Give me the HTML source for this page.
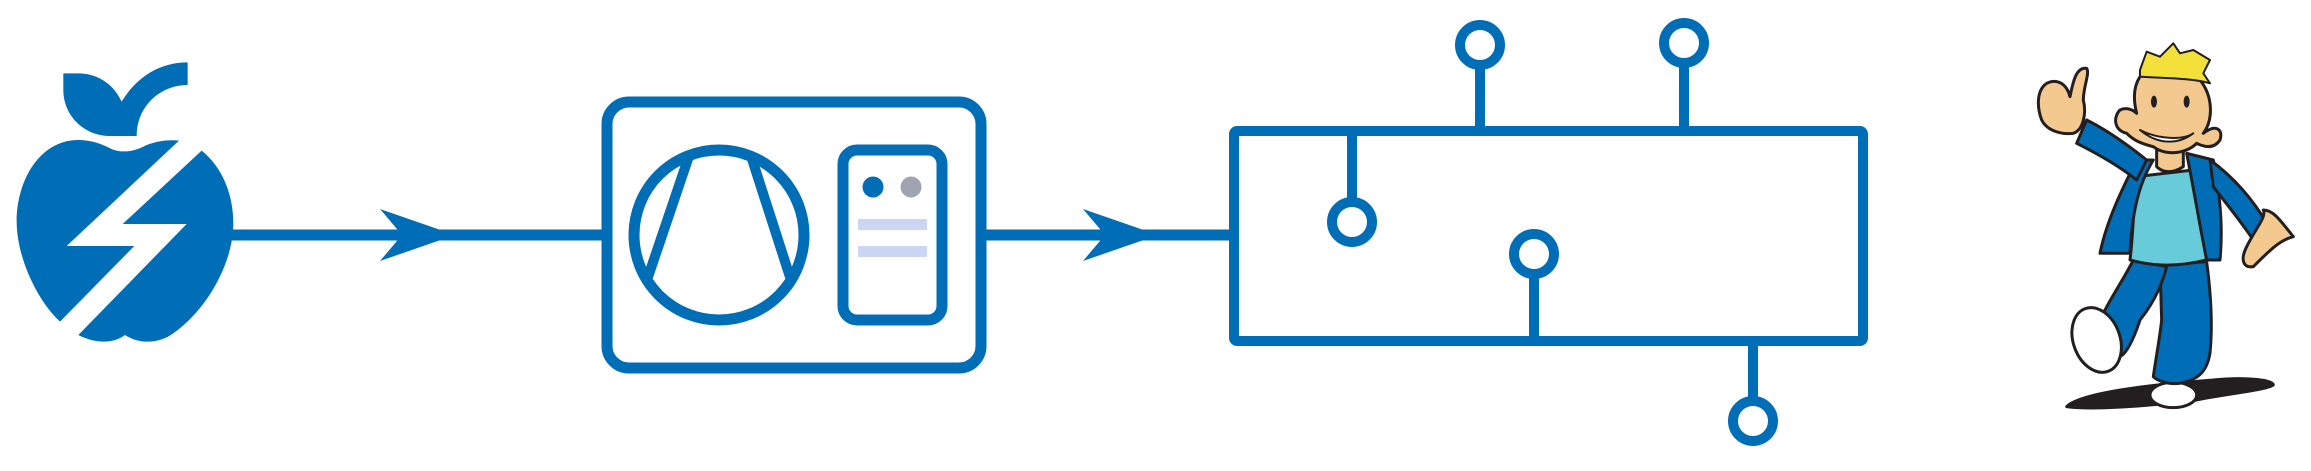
<!DOCTYPE html>
<html><head><meta charset="utf-8"><style>
html,body{margin:0;padding:0;background:#fff;}
svg{display:block;}
</style></head><body>
<svg width="2311" height="471" viewBox="0 0 2311 471" xmlns="http://www.w3.org/2000/svg">
<rect width="2311" height="471" fill="#fff"/>
<!-- apple -->
<g transform="translate(0,30) scale(0.3333)" fill="#006eb6">
<path d="M537,332 L200,648 L403,648 L180,875 C110,810 50,680 50,575 C50,450 120,330 235,330 C270,330 300,340 325,352 C360,372 400,365 430,350 C460,335 500,328 537,332 Z"/>
<path d="M605,362 L368,582 L560,582 L235,915 C280,938 335,945 375,915 C420,945 480,940 520,910 C620,840 700,700 700,580 C700,490 665,410 605,362 Z"/>
<path d="M190,130 L235,130 C290,130 340,160 365,215 C410,140 480,97 563,97 L563,165 C480,165 410,230 410,318 L330,318 C250,318 190,255 190,180 Z"/>
</g>
<g stroke="#006eb6" fill="none" stroke-width="11">
<!-- left arrow -->
<line x1="230" y1="235" x2="604" y2="235"/>
<!-- middle box -->
<rect x="607" y="102" width="374" height="266" rx="22"/>
<circle cx="719" cy="235" r="85" stroke-width="11"/>
<line x1="689" y1="156" x2="648" y2="277" stroke-width="10"/>
<line x1="751" y1="156" x2="790" y2="277" stroke-width="10"/>
<rect x="843" y="150" width="99" height="170" rx="14"/>
<!-- right arrow -->
<line x1="981" y1="235" x2="1234" y2="235"/>
<!-- right box -->
<rect x="1234" y="131" width="629" height="210" rx="3" stroke-width="10"/>
</g>
<!-- arrowheads -->
<path d="M380,209 L455,235 L380,261 L402,235 Z" fill="#006eb6"/>
<path d="M1083,209 L1158,235 L1083,261 L1105,235 Z" fill="#006eb6"/>
<!-- indicator -->
<circle cx="873" cy="187" r="10.5" fill="#006eb6"/>
<circle cx="911" cy="187" r="10.5" fill="#a0a4b0"/>
<rect x="858" y="219" width="69" height="11" fill="#cbd6f5"/>
<rect x="858" y="246" width="69" height="11" fill="#cbd6f5"/>
<!-- taps -->
<g stroke="#006eb6" stroke-width="10" fill="none">
<line x1="1480" y1="66" x2="1480" y2="131"/><circle cx="1480" cy="45" r="20"/>
<line x1="1684" y1="64" x2="1684" y2="131"/><circle cx="1684" cy="43" r="20"/>
<line x1="1352" y1="131" x2="1352" y2="201"/><circle cx="1352" cy="222" r="20"/>
<line x1="1534" y1="275" x2="1534" y2="341"/><circle cx="1534" cy="254" r="20"/>
<line x1="1753" y1="341" x2="1753" y2="400"/><circle cx="1753" cy="421" r="20"/>
</g>
<!-- cartoon person -->
<g transform="translate(1980,20) scale(0.3333)" stroke="#231f20" stroke-width="9" stroke-linejoin="round">
<path d="M260,1160 C300,1120 500,1095 700,1080 C800,1070 880,1080 880,1095 C860,1110 750,1120 650,1140 C500,1160 330,1170 260,1160 Z" fill="#231f20"/>
<ellipse cx="580" cy="1125" rx="70" ry="38" fill="#fff"/>
<path d="M540,735 L680,725 C690,800 700,900 690,1000 C680,1060 650,1080 600,1090 C560,1095 530,1080 520,1070 C530,1000 540,950 545,900 Z" fill="#006eb6"/>
<path d="M460,720 L560,740 C545,800 520,850 480,900 C460,960 440,1000 420,1010 C400,980 380,920 370,880 C400,820 430,780 460,720 Z" fill="#006eb6"/>
<ellipse cx="350" cy="960" rx="70" ry="100" transform="rotate(-20 350 960)" fill="#fff"/>
<path d="M470,470 L640,450 C660,550 670,650 680,720 C600,740 520,740 450,720 C460,640 460,560 470,470 Z" fill="#67cbd9"/>
<path d="M470,420 C430,500 380,600 360,700 L450,700 C455,600 470,500 520,420 Z" fill="#006eb6"/>
<path d="M620,400 L700,420 C720,520 730,620 720,720 L680,720 C660,620 640,500 620,400 Z" fill="#006eb6"/>
<path d="M690,420 C760,470 820,540 860,610 L820,660 C780,600 730,540 700,500 Z" fill="#006eb6"/>
<path d="M320,300 C380,330 450,380 500,420 L470,480 C420,440 350,400 290,370 Z" fill="#006eb6"/>
<path d="M200,190 C230,175 260,190 270,230 C280,180 290,140 320,145 C330,160 310,200 310,240 C320,280 310,330 280,340 C240,345 200,330 185,300 C170,260 170,210 200,190 Z" fill="#f3c98f"/>
<path d="M800,680 C830,620 860,590 850,570 C880,570 900,600 940,650 C900,660 870,690 820,740 C790,745 780,720 800,680 Z" fill="#f3c98f"/>
<path d="M530,390 L610,380 L610,440 C580,460 550,460 530,440 Z" fill="#f3c98f"/>
<path d="M480,170 C520,130 620,130 660,180 C700,230 700,300 670,340 C710,310 730,330 720,360 C700,390 670,380 650,370 C620,400 560,410 520,380 C480,370 460,360 440,340 C400,330 400,290 420,270 C440,260 460,270 470,280 C460,240 460,200 480,170 Z" fill="#f3c98f"/>
<path d="M480,150 L500,95 L540,110 L580,70 L600,100 L640,90 L690,120 L670,160 L690,190 C640,175 560,175 480,170 Z" fill="#f4e03a" stroke-width="6"/>
<ellipse cx="522" cy="245" rx="9" ry="18" fill="#231f20" stroke="none"/>
<ellipse cx="620" cy="245" rx="9" ry="18" fill="#231f20" stroke="none"/>
<path d="M480,330 C540,380 600,370 640,340 C610,360 540,360 480,330 Z" fill="#fff" stroke-width="6"/>
</g>
</svg>
</body></html>
